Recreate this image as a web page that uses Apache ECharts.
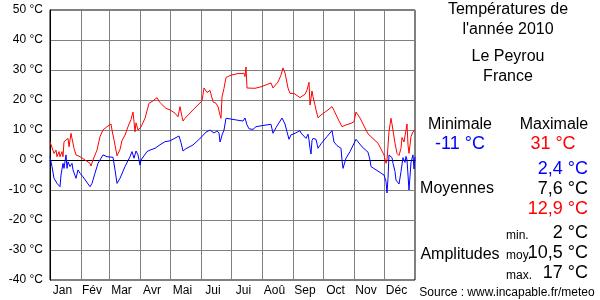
<!DOCTYPE html>
<html><head><meta charset="utf-8">
<script src="https://cdn.jsdelivr.net/npm/echarts@6/dist/echarts.min.js"></script>
<style>html,body{margin:0;padding:0;background:#fff}#c{width:600px;height:300px}</style>
</head><body><div id="c"></div>
<script>
const months = ['Jan','Fév','Mar','Avr','Mai','Jui','Jui','Aoû','Sep','Oct','Nov','Déc'];
const monthDays = [31,28,31,30,31,30,31,31,30,31,30,31];
const yTicks = [-40,-30,-20,-10,0,10,20,30,40,50];

const maxDays = [0,4,6,7,9,10,12,13,14,16,18,19,21,22,24,26,30,35,40,41,43,47,50,53,57,61,62,64,67,68,70,72,75,78,81,83,84,85,86,88,90,91,95,99,103,107,109,111,116,120,125,128,130,132,133,135,143,152,154,157,160,161,163,166,168,170,171,172,174,176,181,188,194,195,196,197,205,211,221,223,228,231,233,235,238,240,241,244,250,255,257,259,260,261,262,263,265,266,268,271,278,282,284,288,292,296,301,304,306,310,318,328,334,336,337,339,341,342,345,347,349,351,352,354,355,357,358,359,361,363,365];
const maxVals = [6.1,2.2,3.3,1.1,2.8,1.1,2.8,1.1,6.1,6.7,7.2,4.4,8.9,7.2,3.9,1.7,1.1,0,-1.1,-2,0,3.3,7.8,10,11.1,12,10,6.7,1.4,1.1,3.5,6.5,8.3,11.1,13.5,16,12.8,9.4,12.4,10,10.3,11,13.9,18.9,19.7,20.8,19.6,18.8,17.2,16.7,15.6,14.4,17.8,14.4,13,13.9,16.7,19.7,24,22.5,23.2,22.8,19.4,18.9,17.8,15,13.9,21,23.9,27.5,28.3,28.8,28.9,27.8,31,24,23.9,24.4,25.7,24,26,28.3,30.7,29,24,22.2,22.8,22.2,20.8,21.9,23.3,25.9,18.3,20.6,23,21.1,18.3,16.7,14.1,15,16.7,17.8,16.5,13.7,11.1,11.7,12.2,12.8,16,14,8.7,5.6,1.7,-1.1,0,9.5,13.9,12,5.6,2.2,1.5,3.9,7.5,6,8,12,5,2.2,7.8,9.4,10];

const minDays = [0,2,4,6,7,8,10,11,13,14,16,17,18,20,22,23,26,28,30,33,40,42,45,48,53,57,63,65,67,70,75,80,82,84,86,88,90,91,93,97,100,105,107,111,115,120,129,131,133,136,143,145,151,156,160,162,164,167,169,170,171,172,174,176,180,187,193,195,197,199,203,206,211,221,223,226,232,235,237,239,241,245,250,251,256,258,259,260,261,262,263,266,268,271,277,282,284,287,291,292,293,296,300,301,306,312,318,320,321,327,334,336,337,338,339,341,342,343,345,346,348,349,351,353,355,356,357,358,359,361,363,364,365];
const minVals = [1.1,-2.2,-6.1,-6.5,-7.8,-7.3,-8.9,-5,-1.1,-2.8,1.7,-2.8,-0.6,-2.2,-1.1,-3.3,-6.1,-3.3,-4.4,-5.6,-8.9,-7.8,-4.4,-1.1,1.7,1.1,0.9,-3.3,-7.8,-6.1,-2.2,1.1,2.8,0.6,3,1.7,-1.7,0,-0.6,2.8,3.3,3.9,4.4,5.3,6.1,6.4,8,5.8,3,3.8,5,5.6,7.5,9.3,10,10.5,9,9.7,9,6,7,8.3,10,13.9,13.7,13.3,13,14,11.7,10.4,10.2,11.1,11.4,11.9,8.9,10.8,14,12,9.4,6.9,8.4,8.9,9.8,9,7.2,8.6,6.7,3.9,2,6.5,7.2,6.9,3.9,5.4,7.8,9.8,6,4.8,3.9,0,-2.8,0.6,2.8,3.3,6.9,4.4,2.6,0,-2.2,-3.5,-5,-7.2,-11,-6.1,1.7,2.2,0.8,-1.1,-3.8,-6.7,-7.2,-8,-3.9,0.8,-0.8,1.2,0,-5,-10,-0.8,1.7,-3,1];

const title1 = 'Températures de', title2 = "l'année 2010", place1 = 'Le Peyrou', place2 = 'France';
const statMin = '-11 °C', statMax = '31 °C';
const avgMin = '2,4 °C', avgMean = '7,6 °C', avgMax = '12,9 °C';
const ampMin = '2 °C', ampMean = '10,5 °C', ampMax = '17 °C';
const source = 'Source : www.incapable.fr/meteo';

const monthStarts = [0];
monthDays.forEach((d, i) => monthStarts.push(monthStarts[i] + d));
const labelPos = monthDays.map((d, i) => monthStarts[i] + d / 2 - 3);

const FF = '"Liberation Sans", Arial, sans-serif';
const chart = echarts.init(document.getElementById('c'));
function txt(text, x, y, size, color, align) {
  return { type: 'text', x: x, y: y, silent: true,
    style: { text: text, fill: color || '#000', font: size + 'px ' + FF,
      align: align || 'center', verticalAlign: 'middle', textAlign: align || 'center', textVerticalAlign: 'middle' } };
}
chart.setOption({
  animation: false,
  grid: { left: 50, right: 185, top: 10, bottom: 20, show: true, borderColor: '#000', borderWidth: 1 },
  xAxis: {
    type: 'value', min: 0, max: 365,
    axisLine: { show: true, lineStyle: { color: '#000' } },
    axisTick: { show: false, customValues: monthStarts },
    splitLine: { show: true, lineStyle: { color: '#808080', width: 1 } },
    axisLabel: { customValues: labelPos, margin: 5, color: '#000', fontSize: 12, fontFamily: FF,
      formatter: function (v) { const i = labelPos.indexOf(v); return i >= 0 ? months[i] : ''; } }
  },
  yAxis: {
    type: 'value', min: yTicks[0], max: yTicks[yTicks.length - 1], interval: 10,
    axisLine: { show: true, lineStyle: { color: '#000' } },
    axisTick: { show: false },
    splitLine: { show: true, lineStyle: { color: '#808080', width: 1 } },
    axisLabel: { margin: 7, color: '#000', fontSize: 12, fontFamily: FF, formatter: '{value} °C' }
  },
  series: [
    { type: 'line', data: minDays.map((d, i) => [d, minVals[i]]), showSymbol: false,
      lineStyle: { color: '#0000ff', width: 1 }, itemStyle: { color: '#0000ff' } },
    { type: 'line', data: maxDays.map((d, i) => [d, maxVals[i]]), showSymbol: false,
      lineStyle: { color: '#ff0000', width: 1 }, itemStyle: { color: '#ff0000' } }
  ],
  graphic: [
    txt(title1, 508, 10, 16), txt(title2, 508, 30, 16),
    txt(place1, 508, 57, 16), txt(place2, 508, 77, 16),
    txt('Minimale', 460, 125, 16), txt('Maximale', 554, 125, 16),
    txt(statMin, 460, 144, 18, '#0000ff'), txt(statMax, 553, 144, 18, '#ff0000'),
    txt(avgMin, 588, 169, 18, '#0000ff', 'right'),
    txt('Moyennes', 457, 189, 16),
    txt(avgMean, 588, 189, 18, '#000', 'right'),
    txt(avgMax, 588, 209, 18, '#ff0000', 'right'),
    txt('min.', 506, 236, 12, '#000', 'left'), txt(ampMin, 588, 233, 18, '#000', 'right'),
    txt('Amplitudes', 460, 255, 16),
    txt('moy.', 506, 256, 12, '#000', 'left'), txt(ampMean, 588, 253, 18, '#000', 'right'),
    txt('max.', 506, 276, 12, '#000', 'left'), txt(ampMax, 588, 273, 18, '#000', 'right'),
    txt(source, 507, 293, 12)
  ]
});
</script></body></html>
